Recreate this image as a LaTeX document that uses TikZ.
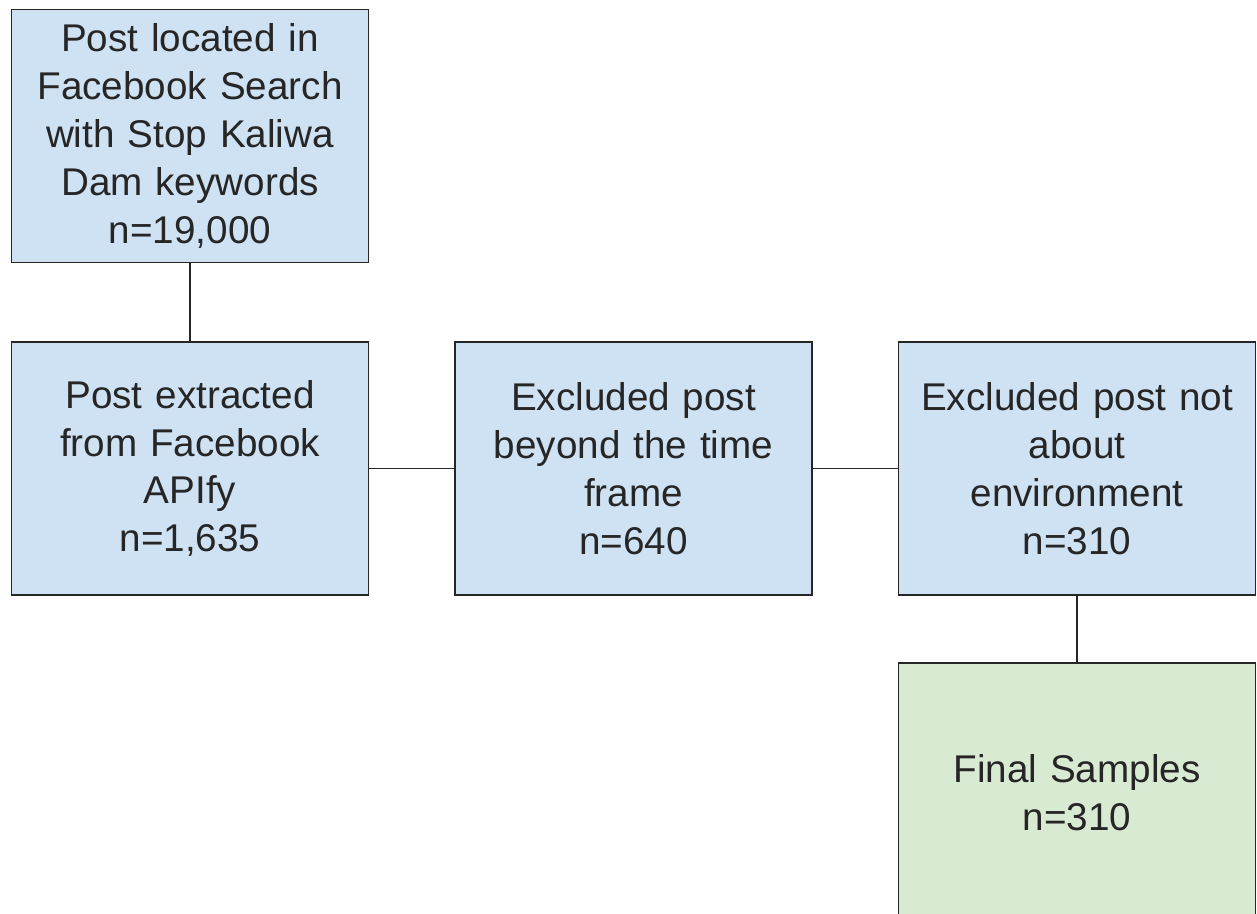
\documentclass[tikz,border=0pt]{standalone}
\usepackage{fontspec}
\setmainfont{Liberation Sans}
\usetikzlibrary{positioning}
\definecolor{PaleBlue}{HTML}{CFE2F3}
\definecolor{PaleGreen}{HTML}{D9EAD3}
\definecolor{EdgeGray}{HTML}{262626}

\begin{document}
\begin{tikzpicture}[
    stage/.style={rectangle, draw=EdgeGray, line width=1.1pt, fill=PaleBlue,
                  minimum width=7.14cm, minimum height=5.06cm,
                  font=\fontsize{22}{27.2}\selectfont, text=black!85,
                  text width=6.8cm, align=center, inner sep=0pt},
    final/.style={stage, fill=PaleGreen, minimum height=5.2cm},
    link/.style={draw=EdgeGray, line width=1.1pt}
]
    \useasboundingbox (0,0) rectangle (25.14,-18.28);

    % Search step on top
    \node[stage] (search) at (3.8,-2.72) {Post located in\\Facebook Search\\with Stop Kaliwa\\Dam keywords\\n=19,000};

    % Filtering steps in a row
    \node[stage] (extract) at (3.8,-9.37) {Post extracted\\from Facebook\\APIfy\\n=1,635};
    \node[stage] (timeframe) at (12.67,-9.37) {Excluded post\\beyond the time\\frame\\n=640};
    \node[stage] (topic) at (21.54,-9.37) {Excluded post not\\about\\environment\\n=310};

    % Final samples
    \node[final] (samples) at (21.54,-15.86) {Final Samples\\n=310};

    % Connectors
    \draw[link] (search) -- (extract);
    \draw[link] (extract) -- (timeframe);
    \draw[link] (timeframe) -- (topic);
    \draw[link] (topic) -- (samples);
\end{tikzpicture}
\end{document}
